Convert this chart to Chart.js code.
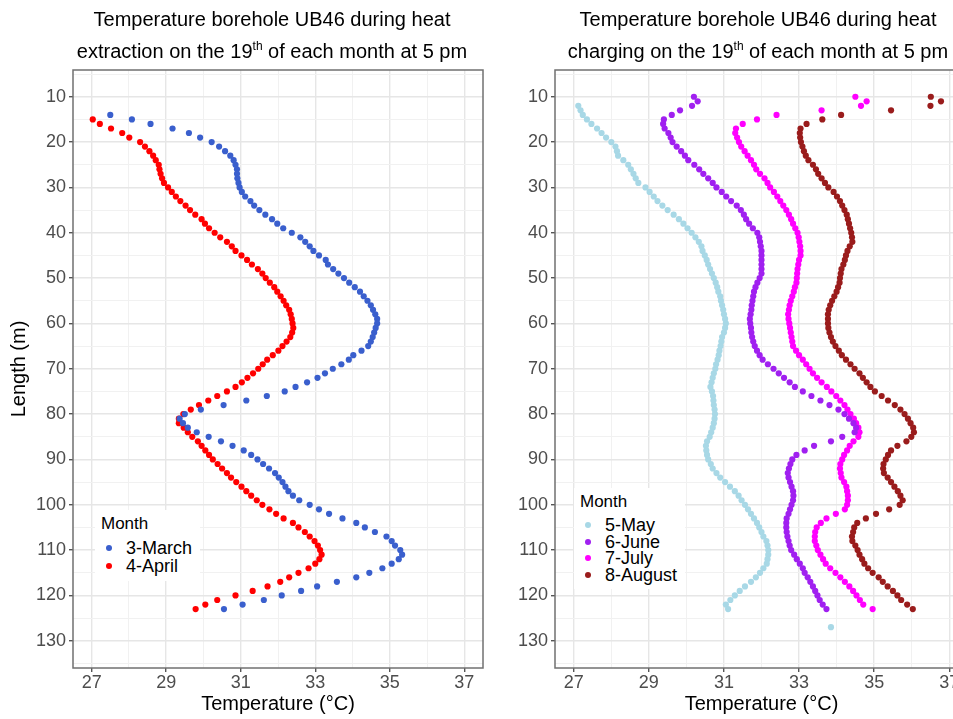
<!DOCTYPE html>
<html>
<head>
<meta charset="utf-8">
<script src="https://cdn.jsdelivr.net/npm/chart.js@4.4.1/dist/chart.umd.min.js"></script>
<style>
  html, body { margin: 0; padding: 0; background: #fff; overflow: hidden; }
  body { width: 953px; height: 719px; position: relative; font-family: "Liberation Sans", Arial, sans-serif; }
  canvas { position: absolute; top: 0; }
  #leftChart { left: 0; }
  #rightChart { left: 490px; }
  .title { position: absolute; top: 4px; width: 420px; text-align: center; font-size: 20px; line-height: 31.6px; color: #000; }
  .title sup { font-size: 0.6em; line-height: 0; vertical-align: baseline; position: relative; top: -0.6em; }
  .legend { position: absolute; background: #fff; color: #000; padding: 4px 8px 6px 6px; }
  .lg-title { font-size: 17px; line-height: 20px; margin-bottom: 5px; }
  .lg-row { font-size: 18px; display: flex; align-items: center; }
  .lg-dot { width: 6px; height: 6px; border-radius: 50%; margin-left: 5px; margin-right: 14px; }
  #leftLegend { left: 95px; top: 510px; }
  #leftLegend .lg-row { line-height: 18px; }
  #rightLegend { left: 574px; top: 488px; }
  #rightLegend .lg-row { line-height: 16.5px; }
</style>
</head>
<body>
<canvas id="leftChart" width="490" height="719" style="width:490px;height:719px"></canvas>
<canvas id="rightChart" width="485" height="719" style="width:485px;height:719px"></canvas>
<div class="title" style="left:62px">Temperature borehole UB46 during heat<br>extraction on the 19<sup>th</sup> of each month at 5 pm</div>
<div class="title" style="left:548px">Temperature borehole UB46 during heat<br>charging on the 19<sup>th</sup> of each month at 5 pm</div>
<div class="legend" id="leftLegend"></div>
<div class="legend" id="rightLegend"></div>
<script>
// depth along the borehole (m)
const depth = [
  10, 11, 12, 13, 14, 15, 16, 17, 18, 19,
  20, 21, 22, 23, 24, 25, 26, 27, 28, 29,
  30, 31, 32, 33, 34, 35, 36, 37, 38, 39,
  40, 41, 42, 43, 44, 45, 46, 47, 48, 49,
  50, 51, 52, 53, 54, 55, 56, 57, 58, 59,
  60, 61, 62, 63, 64, 65, 66, 67, 68, 69,
  70, 71, 72, 73, 74, 75, 76, 77, 78, 79,
  80, 81, 82, 83, 84, 85, 86, 87, 88, 89,
  90, 91, 92, 93, 94, 95, 96, 97, 98, 99,
  100, 101, 102, 103, 104, 105, 106, 107, 108, 109,
  110, 111, 112, 113, 114, 115, 116, 117, 118, 119,
  120, 121, 122, 123, 124, 125, 126, 127
];

// temperatures (°C), one per depth, null = no reading
const march = [
  null, null, null, null, 27.50, 28.08, 28.58, 29.17, 29.61, 29.91,
  30.22, 30.42, 30.58, 30.72, 30.81, 30.86, 30.90, 30.90, 30.91, 30.94,
  30.97, 31.03, 31.12, 31.26, 31.36, 31.50, 31.66, 31.84, 31.98, 32.14,
  32.37, 32.60, 32.73, 32.85, 32.95, 33.10, 33.28, 33.34, 33.48, 33.62,
  33.77, 33.91, 34.06, 34.20, 34.30, 34.40, 34.49, 34.55, 34.61, 34.66,
  34.66, 34.62, 34.58, 34.54, 34.49, 34.42, 34.24, 34.02, 33.90, 33.70,
  33.47, 33.26, 33.06, 32.78, 32.47, 32.18, 31.70, 31.15, 30.54, 29.93,
  29.50, 29.36, 29.45, 29.58, 29.82, 30.14, 30.47, 30.78, 31.08, 31.28,
  31.45, 31.60, 31.76, 31.92, 32.02, 32.12, 32.20, 32.28, 32.40, 32.57,
  32.85, 33.10, 33.37, 33.73, 34.10, 34.33, 34.60, 34.91, 35.05, 35.14,
  35.28, 35.33, 35.24, 35.05, 34.80, 34.45, 34.10, 33.58, 33.05, 32.62,
  32.10, 31.62, 31.05, 30.55, null, null, null, null
];
const april = [
  null, null, null, null, null, 27.03, 27.22, 27.52, 27.82, 28.01,
  28.30, 28.43, 28.55, 28.65, 28.72, 28.80, 28.82, 28.85, 28.89, 28.94,
  29.05, 29.15, 29.26, 29.38, 29.52, 29.64, 29.78, 29.95, 30.04, 30.15,
  30.30, 30.45, 30.63, 30.76, 30.86, 31.02, 31.17, 31.30, 31.46, 31.58,
  31.67, 31.78, 31.90, 31.98, 32.07, 32.15, 32.22, 32.30, 32.34, 32.37,
  32.39, 32.41, 32.38, 32.33, 32.23, 32.12, 32.01, 31.86, 31.71, 31.59,
  31.47, 31.33, 31.18, 31.03, 30.86, 30.63, 30.37, 30.13, 29.88, 29.66,
  29.46, 29.34, 29.34, 29.47, 29.58, 29.70, 29.85, 29.95, 30.05, 30.15,
  30.25, 30.38, 30.50, 30.63, 30.74, 30.88, 31.02, 31.15, 31.28, 31.43,
  31.58, 31.77, 31.95, 32.15, 32.40, 32.55, 32.72, 32.85, 32.98, 33.07,
  33.13, 33.17, 33.11, 33.00, 32.82, 32.55, 32.30, 32.06, 31.72, 31.32,
  30.86, 30.37, 30.05, 29.79, null, null, null, null
];
const may = [
  null, null, 27.12, 27.18, 27.24, 27.35, 27.47, 27.62, 27.74, 27.86,
  28.00, 28.11, 28.15, 28.18, 28.32, 28.45, 28.52, 28.59, 28.65, 28.72,
  28.91, 29.02, 29.13, 29.23, 29.36, 29.50, 29.66, 29.80, 29.92, 30.03,
  30.14, 30.24, 30.33, 30.40, 30.43, 30.49, 30.54, 30.58, 30.63, 30.68,
  30.73, 30.78, 30.82, 30.85, 30.90, 30.92, 30.95, 30.98, 31.00, 31.03,
  31.05, 31.03, 31.00, 30.95, 30.93, 30.91, 30.88, 30.86, 30.83, 30.79,
  30.77, 30.73, 30.70, 30.67, 30.64, 30.68, 30.71, 30.72, 30.73, 30.75,
  30.76, 30.75, 30.73, 30.70, 30.66, 30.62, 30.55, 30.52, 30.53, 30.55,
  30.58, 30.65, 30.70, 30.80, 30.90, 31.03, 31.16, 31.29, 31.39, 31.47,
  31.56, 31.64, 31.72, 31.80, 31.88, 31.94, 32.00, 32.05, 32.13, 32.16,
  32.18, 32.18, 32.16, 32.14, 32.05, 31.96, 31.85, 31.72, 31.56, 31.42,
  31.29, 31.17, 31.05, 31.11, null, null, null, 33.85
];
const june = [
  30.20, 30.30, 30.15, 29.83, 29.61, 29.40, 29.38, 29.42, 29.52, 29.58,
  29.63, 29.74, 29.86, 29.96, 30.05, 30.21, 30.34, 30.45, 30.58, 30.70,
  30.80, 30.94, 31.06, 31.19, 31.34, 31.45, 31.53, 31.59, 31.67, 31.77,
  31.89, 31.94, 31.96, 31.98, 32.00, 32.00, 32.00, 32.00, 32.00, 32.00,
  31.95, 31.89, 31.84, 31.80, 31.78, 31.76, 31.74, 31.73, 31.71, 31.69,
  31.70, 31.72, 31.73, 31.75, 31.78, 31.82, 31.88, 31.95, 32.03, 32.17,
  32.32, 32.46, 32.60, 32.75, 32.89, 33.10, 33.33, 33.57, 33.81, 34.05,
  34.21, 34.33, 34.45, 34.52, 34.48, 34.15, 33.85, 33.40, 33.15, 32.93,
  32.82, 32.77, 32.73, 32.70, 32.72, 32.76, 32.80, 32.84, 32.85, 32.84,
  32.80, 32.76, 32.72, 32.67, 32.66, 32.66, 32.67, 32.69, 32.72, 32.75,
  32.79, 32.87, 32.94, 33.02, 33.10, 33.15, 33.23, 33.30, 33.37, 33.43,
  33.49, 33.55, 33.63, 33.73, null, null, null, null
];
const july = [
  34.50, 34.80, 34.65, 33.60, 32.40, 31.88, 31.50, 31.32, 31.30, 31.35,
  31.40, 31.46, 31.55, 31.63, 31.72, 31.80, 31.86, 31.96, 32.08, 32.16,
  32.23, 32.33, 32.42, 32.50, 32.58, 32.66, 32.73, 32.79, 32.84, 32.90,
  32.96, 32.99, 33.01, 33.03, 33.04, 33.04, 33.00, 32.98, 32.96, 32.95,
  32.94, 32.93, 32.89, 32.86, 32.82, 32.78, 32.75, 32.73, 32.71, 32.72,
  32.74, 32.76, 32.78, 32.80, 32.82, 32.84, 32.92, 33.00, 33.10, 33.19,
  33.28, 33.37, 33.48, 33.60, 33.74, 33.86, 33.99, 34.10, 34.21, 34.29,
  34.37, 34.46, 34.52, 34.58, 34.61, 34.58, 34.45, 34.35, 34.28, 34.20,
  34.15, 34.10, 34.09, 34.11, 34.13, 34.20, 34.26, 34.28, 34.30, 34.30,
  34.28, 34.22, 33.98, 33.73, 33.58, 33.47, 33.43, 33.42, 33.42, 33.46,
  33.50, 33.57, 33.64, 33.71, 33.83, 33.97, 34.10, 34.22, 34.34, 34.44,
  34.53, 34.62, 34.71, 34.96, null, null, null, null
];
const august = [
  36.51, 36.78, 36.50, 35.45, 34.12, 33.62, 33.20, 33.04, 33.02, 33.03,
  33.05, 33.09, 33.13, 33.18, 33.25, 33.37, 33.45, 33.51, 33.60, 33.69,
  33.78, 33.92, 34.01, 34.09, 34.15, 34.21, 34.27, 34.30, 34.33, 34.36,
  34.39, 34.41, 34.42, 34.35, 34.29, 34.25, 34.22, 34.18, 34.13, 34.11,
  34.09, 34.08, 34.04, 34.00, 33.94, 33.88, 33.83, 33.79, 33.77, 33.77,
  33.77, 33.78, 33.81, 33.85, 33.90, 33.97, 34.06, 34.14, 34.25, 34.37,
  34.48, 34.61, 34.70, 34.80, 34.90, 35.02, 35.20, 35.37, 35.55, 35.70,
  35.81, 35.90, 35.97, 36.04, 36.06, 35.99, 35.86, 35.62, 35.45, 35.37,
  35.31, 35.25, 35.24, 35.26, 35.36, 35.45, 35.54, 35.63, 35.70, 35.76,
  35.68, 35.40, 35.05, 34.78, 34.55, 34.47, 34.44, 34.41, 34.42, 34.50,
  34.56, 34.61, 34.68, 34.74, 34.84, 34.96, 35.12, 35.23, 35.36, 35.50,
  35.62, 35.72, 35.88, 36.03, null, null, null, null
];

// axis breaks
const xTicks = [27, 28, 29, 30, 31, 32, 33, 34, 35, 36, 37];
const xLabels = [27, 29, 31, 33, 35, 37];
const yTicks = [5, 10, 15, 20, 25, 30, 35, 40, 45, 50, 55, 60, 65, 70, 75, 80, 85, 90, 95, 100, 105, 110, 115, 120, 125, 130, 135];
const yLabels = [10, 20, 30, 40, 50, 60, 70, 80, 90, 100, 110, 120, 130];

const FONT = '"Liberation Sans", Arial, sans-serif';

function toPoints(temps) {
  return depth.map((d, i) => ({ x: temps[i], y: d })).filter(p => p.x !== null);
}

function series(label, temps, color) {
  return {
    label: label,
    data: toPoints(temps),
    backgroundColor: color,
    borderColor: color,
    pointRadius: 3.1,
    pointBorderWidth: 0,
    showLine: false
  };
}

const panelBorder = {
  id: 'panelBorder',
  afterDatasetsDraw(chart) {
    const { ctx, chartArea: a } = chart;
    ctx.save();
    ctx.strokeStyle = '#707070';
    ctx.lineWidth = 1.5;
    ctx.strokeRect(a.left, a.top, a.width, a.height);
    ctx.restore();
  }
};

function makeChart(id, datasets, yWidth, yTitle) {
  return new Chart(document.getElementById(id), {
    type: 'scatter',
    data: { datasets: datasets },
    options: {
      responsive: false,
      animation: false,
      layout: { padding: { top: 70, right: 7, bottom: 0, left: 0 } },
      plugins: { legend: { display: false }, tooltip: { enabled: false }, title: { display: false } },
      scales: {
        x: {
          type: 'linear',
          min: 26.5,
          max: 37.5,
          afterBuildTicks: s => { s.ticks = xTicks.map(v => ({ value: v })); },
          afterFit: s => { s.height = 51; },
          ticks: {
            autoSkip: false,
            maxRotation: 0,
            padding: 0,
            color: '#4D4D4D',
            font: { family: FONT, size: 18 },
            callback: v => xLabels.includes(v) ? String(v) : ''
          },
          grid: {
            color: c => (c.tick && xLabels.includes(c.tick.value)) ? '#E6E6E6' : '#F1F1F1',
            lineWidth: c => (c.tick && xLabels.includes(c.tick.value)) ? 1.4 : 1,
            tickLength: 4,
            tickColor: c => (c.tick && xLabels.includes(c.tick.value)) ? '#555' : 'rgba(0,0,0,0)'
          },
          border: { display: false },
          title: {
            display: true,
            text: 'Temperature (°C)',
            color: '#000',
            font: { family: FONT, size: 20 },
            padding: { top: 0, bottom: 3 }
          }
        },
        y: {
          type: 'linear',
          reverse: true,
          min: 4.1,
          max: 136,
          afterBuildTicks: s => { s.ticks = yTicks.map(v => ({ value: v })); },
          afterFit: s => { s.width = yWidth; },
          ticks: {
            autoSkip: false,
            padding: 3,
            color: '#4D4D4D',
            font: { family: FONT, size: 18 },
            callback: v => yLabels.includes(v) ? String(v) : ''
          },
          grid: {
            color: c => (c.tick && yLabels.includes(c.tick.value)) ? '#E6E6E6' : '#F1F1F1',
            lineWidth: c => (c.tick && yLabels.includes(c.tick.value)) ? 1.4 : 1,
            tickLength: 4,
            tickColor: c => (c.tick && yLabels.includes(c.tick.value)) ? '#555' : 'rgba(0,0,0,0)'
          },
          border: { display: false },
          title: {
            display: yTitle,
            text: 'Length (m)',
            color: '#000',
            font: { family: FONT, size: 20 },
            padding: { top: 7, bottom: 0 }
          }
        }
      }
    },
    plugins: [panelBorder]
  });
}

const leftChart = makeChart('leftChart', [
  series('3-March', march, '#3A5FCD'),
  series('4-April', april, '#FF0000')
], 73, true);

const rightChart = makeChart('rightChart', [
  series('5-May', may, '#A8D8E6'),
  series('6-June', june, '#A020F0'),
  series('7-July', july, '#FF00FF'),
  series('8-August', august, '#9A1C1C')
], 65, false);

function buildLegend(elId, chart) {
  let html = '<div class="lg-title">Month</div>';
  chart.data.datasets.forEach(ds => {
    html += '<div class="lg-row"><span class="lg-dot" style="background:' + ds.backgroundColor + '"></span>' + ds.label + '</div>';
  });
  document.getElementById(elId).innerHTML = html;
}
buildLegend('leftLegend', leftChart);
buildLegend('rightLegend', rightChart);
</script>
</body>
</html>
